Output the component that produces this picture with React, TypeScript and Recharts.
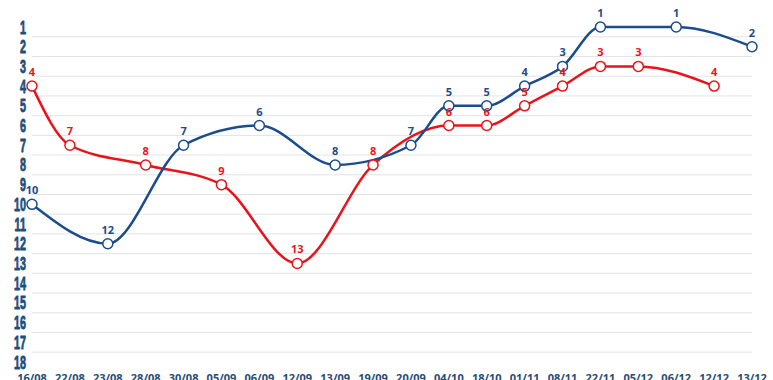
import React from "react";
import { LineChart, Line, XAxis, YAxis, ReferenceLine, LabelList } from "recharts";

const dates = ["16/08","22/08","23/08","28/08","30/08","05/09","06/09","12/09","13/09","19/09","20/09","04/10","18/10","01/11","08/11","22/11","05/12","06/12","12/12","13/12"];
const redSeries: (number | null)[] = [4,7,null,8,null,9,null,13,null,8,null,6,6,5,4,3,3,null,4,null];
const blueSeries: (number | null)[] = [10,null,12,null,7,null,6,null,8,null,7,5,5,4,3,1,null,1,null,2];
const yTicks = [1,2,3,4,5,6,7,8,9,10,11,12,13,14,15,16,17,18];
const gridValues = [1.5,2.5,3.5,4.5,5.5,6.5,7.5,8.5,9.5,10.5,11.5,12.5,13.5,14.5,15.5,16.5,17.5];

const data = dates.map((d, i) => ({ date: d, red: redSeries[i], blue: blueSeries[i] }));

const BLUE = "#1B4D8C";
const RED = "#E8141C";

const YTick = (props: any) => {
  const { x, y, payload } = props;
  return (
    <g transform={`translate(${x + 2},${y + 6.5}) scale(0.6,1)`}>
      <text x={0} y={0} textAnchor="end" fill="#1F4E79" stroke="#1F4E79" strokeWidth={0.8}
        style={{ fontFamily: "'Liberation Sans', Arial, sans-serif", fontWeight: 700, fontSize: 18 }}>
        {payload.value}
      </text>
    </g>
  );
};

const XTick = (props: any) => {
  const { x, y, payload } = props;
  return (
    <text x={x} y={y} dy={12} textAnchor="middle" fill="#1F4E79"
      style={{ fontFamily: "'Open Sans', 'Liberation Sans', sans-serif", fontWeight: 700, fontSize: 11 }}>
      {payload.value}
    </text>
  );
};

const labelStyle = { fontFamily: "'Open Sans', 'Liberation Sans', sans-serif", fontWeight: 700, fontSize: 11 };

export default function App() {
  return (
    <div style={{ position: "absolute", left: 0, top: 0, width: 773, height: 380, background: "#fff", overflow: "hidden" }}>
      <LineChart width={773} height={380} data={data} margin={{ top: 27, right: 21, bottom: 0, left: 0 }}>
        {gridValues.map((v) => (
          <ReferenceLine key={v} y={v} stroke="#E3E3E3" strokeWidth={1} />
        ))}
        <XAxis dataKey="date" height={18} axisLine={false} tickLine={false} interval={0} tick={<XTick />} />
        <YAxis type="number" reversed domain={[1, 18]} ticks={yTicks} width={32} interval={0}
          axisLine={false} tickLine={false} tick={<YTick />} />
        <Line type="monotone" dataKey="red" stroke={RED} strokeWidth={2.5} connectNulls isAnimationActive={false}
          dot={{ r: 5, fill: "#fff", stroke: RED, strokeWidth: 1.5 }}>
          <LabelList dataKey="red" position="top" offset={10} fill={RED} style={labelStyle} />
        </Line>
        <Line type="monotone" dataKey="blue" stroke={BLUE} strokeWidth={2.5} connectNulls isAnimationActive={false}
          dot={{ r: 5, fill: "#fff", stroke: BLUE, strokeWidth: 1.5 }}>
          <LabelList dataKey="blue" position="top" offset={10} fill={BLUE} style={labelStyle} />
        </Line>
      </LineChart>
    </div>
  );
}
